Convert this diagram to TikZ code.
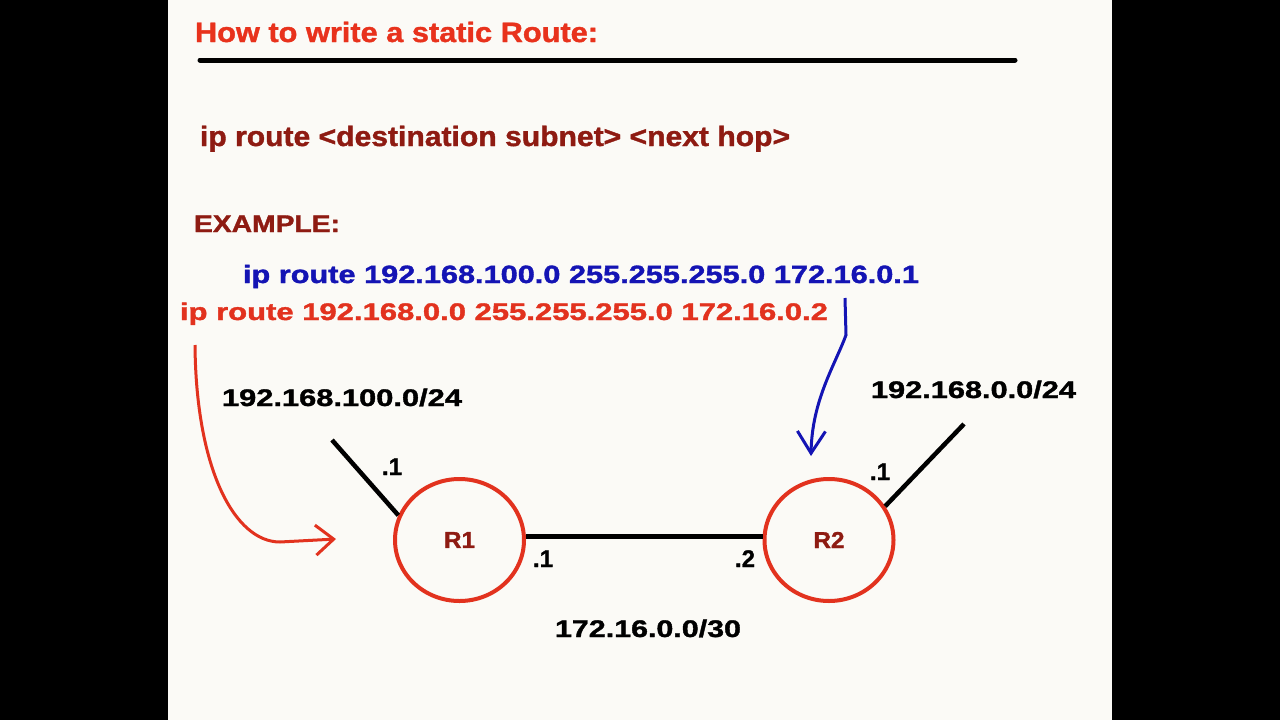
\documentclass[tikz,border=0pt]{standalone}
\usepackage{graphicx}
\usepackage{fontspec}
\setmainfont{Liberation Sans}[BoldFeatures={FakeBold=1.3}]
\usetikzlibrary{arrows.meta,shapes.geometric}
\definecolor{titlered}{HTML}{E8321C}
\definecolor{darkred}{HTML}{8E1B12}
\definecolor{cmdblue}{HTML}{1414B4}
\definecolor{linered}{HTML}{E2321E}
\definecolor{paper}{HTML}{FBFAF6}
\newcommand\fw[3]{{\fontsize{#2}{#2}\selectfont\bfseries\resizebox{#1}{\height}{#3}}}
\newcommand\fs[2]{{\fontsize{#1}{#1}\selectfont\bfseries #2}}
\begin{document}
\begin{tikzpicture}[x=1pt,y=-1pt,
  txt/.style={anchor=base west,inner sep=0pt,outer sep=0pt},
  router/.style={ellipse,draw=linered,line width=4pt,minimum width=129pt,minimum height=122pt,inner sep=0pt,text=darkred},
  net/.style={line width=4.5pt,black},
  redarrow/.style={line width=3pt,linered,-{Straight Barb[length=18pt,width=30pt]}},
  bluearrow/.style={line width=3pt,cmdblue,-{Straight Barb[length=22pt,width=28pt]}}]
\useasboundingbox (0,0) rectangle (1280,720);
\fill[black] (0,0) rectangle (1280,720);
\fill[paper] (168,0) rectangle (1112,720);
% heading
\node[txt,text=titlered] (title) at (195,42) {\fw{403pt}{28}{How to write a static Route:}};
\draw[line width=5pt,line cap=round] (200,60) -- (1015,60);
\node[txt,text=darkred] (syntax) at (200,146) {\fw{590pt}{28}{ip route <destination subnet> <next hop>}};
\node[txt,text=darkred] (example) at (194,232) {\fw{146pt}{24}{EXAMPLE:}};
\node[txt,text=cmdblue] (bluecmd) at (243,283) {\fw{676pt}{25}{ip route 192.168.100.0 255.255.255.0 172.16.0.1}};
\node[txt,text=linered] (redcmd) at (180,320) {\fw{648pt}{24}{ip route 192.168.0.0 255.255.255.0 172.16.0.2}};
% routers
\node[router] (R1) at (459.5,540) {\fw{31pt}{23}{R1}};
\node[router] (R2) at (829,540) {\fw{31pt}{23}{R2}};
\draw[net] (R1.3) -- (R2.177);
\coordinate (e1) at (332,440);
\coordinate (e2) at (964,424);
\draw[net] (R1.158) -- (e1);
\draw[net] (R2.31) -- (e2);
% labels
\node[txt] (lan1) at (222,406) {\fw{240pt}{24}{192.168.100.0/24}};
\node[txt] (lan2) at (871,398) {\fw{205pt}{24}{192.168.0.0/24}};
\node[txt] (wan) at (555,637) {\fw{186pt}{24}{172.16.0.0/30}};
\node[txt] (ip1a) at (382,475) {\fs{24}{.1}};
\node[txt] (ip1b) at (533,567) {\fs{24}{.1}};
\node[txt] (ip2a) at (735,567) {\fs{24}{.2}};
\node[txt] (ip2b) at (870,480) {\fs{24}{.1}};
% arrows
\coordinate (ra0) at (195,345);
\coordinate (ra1) at (336,539);
\draw[redarrow] (ra0) .. controls (196,470) and (235,542) .. (280,542) -- (ra1);
\coordinate (ba0) at (845,298);
\coordinate (ba1) at (811,456);
\draw[bluearrow] (ba0) -- (846,335) .. controls (835,365) and (812,400) .. (ba1);
\end{tikzpicture}
\end{document}
